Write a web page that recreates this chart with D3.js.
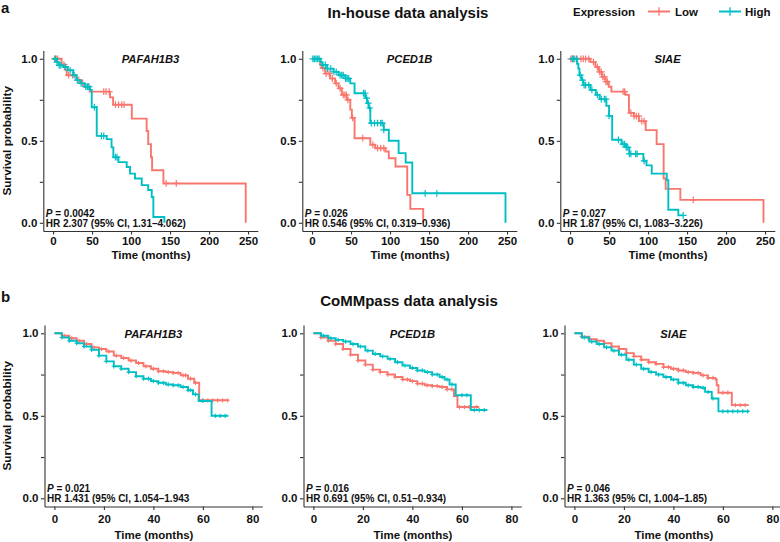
<!DOCTYPE html>
<html><head><meta charset="utf-8">
<script src="https://cdn.jsdelivr.net/npm/d3@7"></script>
<style>body{margin:0;background:#fff} text{font-family:"Liberation Sans",Arial,Helvetica,sans-serif}</style>
</head><body><script>
// ---------------- DATA ----------------
const genes = ["PAFAH1B3", "PCED1B", "SIAE"];
const groups = ["Low", "High"];
const inhouseP = ["0.0042", "0.026", "0.027"];
const inhouseHR = ["HR 2.307 (95% CI, 1.31\u20134.062)", "HR 0.546 (95% CI, 0.319\u20130.936)", "HR 1.87 (95% CI, 1.083\u20133.226)"];
const commpassP = ["0.021", "0.016", "0.046"];
const commpassHR = ["HR 1.431 (95% CI, 1.054\u20131.943", "HR 0.691 (95% CI, 0.51\u20130.934)", "HR 1.363 (95% CI, 1.004\u20131.85)"];
const inhouseXTicks = [0, 50, 100, 150, 200, 250];
const commpassXTicks = [0, 20, 40, 60, 80];
const yTicks = [0, 0.25, 0.5, 0.75, 1];
const yLabelled = [0, 0.5, 1];

// In-house: [time (months), survival after step]
const inPAFAH1B3Low = [[0,1],[11,0.965],[15,0.935],[17.5,0.90],[30,0.87],[37,0.85],[40,0.83],[47,0.80],[73,0.765],[77,0.72],[101,0.635],[120,0.56],[122,0.48],[125.5,0.40],[127,0.32],[141.5,0.24],[247,0]];
const inPAFAH1B3High = [[0,1],[4.7,0.98],[7,0.96],[13,0.95],[19,0.93],[26,0.90],[30,0.87],[34.6,0.85],[40.6,0.83],[47.4,0.81],[49.6,0.705],[56,0.53],[68.8,0.51],[75,0.46],[77.3,0.40],[83.8,0.37],[94.4,0.34],[98.7,0.30],[105,0.27],[113.7,0.23],[122,0.20],[126.5,0.157],[128.6,0.035],[142.7,0]];
const inPCED1BLow = [[0,1],[10.3,0.963],[12,0.943],[16.8,0.91],[23.2,0.88],[29.6,0.85],[34,0.82],[38.2,0.78],[44.6,0.75],[49,0.69],[51,0.64],[54.5,0.516],[74.7,0.476],[81,0.455],[94,0.435],[98.4,0.394],[107,0.343],[122,0.17],[126,0.085],[142.5,0]];
const inPCED1BHigh = [[0,1],[11,0.98],[13,0.963],[19.4,0.94],[27.5,0.92],[34,0.90],[42.5,0.88],[49,0.85],[54.5,0.79],[68.3,0.76],[70.5,0.73],[72.6,0.70],[74.7,0.608],[92,0.567],[98.4,0.50],[111,0.425],[120,0.368],[128.5,0.18],[248,0]];
const inSIAELow = [[0,1],[26,0.98],[32.5,0.95],[37,0.92],[41,0.89],[45.3,0.86],[49.6,0.83],[53,0.80],[71,0.78],[75.5,0.67],[82,0.65],[88.3,0.62],[97,0.565],[111,0.48],[120,0.27],[122.6,0.207],[141.4,0.14],[248,0]];
const inSIAEHigh = [[0,1],[9,0.97],[10.7,0.94],[12,0.90],[14.5,0.87],[17,0.84],[26,0.81],[33,0.78],[38,0.754],[46.6,0.713],[50,0.652],[54,0.506],[66,0.48],[72,0.46],[76,0.42],[94,0.378],[98,0.35],[104.7,0.30],[124,0.26],[126,0.08],[138.8,0.045]];
const inhouseEnd = [[247, 142.7], [142.5, 248], [248, 145]];

const inPAFAH1B3LowCens = [2,4,6,14,20,25,33,38,45,65,68,72,80,84,88,91,145,158];
const inPAFAH1B3HighCens = [3,5,8,10,16,22,27,31,36,42,44,46,53,62,65,80,82];
const inPCED1BLowCens = [14,18,22,26,31,36,40,42,44,46,52,65,78,84,88,92];
const inPCED1BHighCens = [1,3,5,7,9,14,17,20,24,28,31,36,38,40,43,45,47,66,68,70,72,74,76,80,84,88,90,92,145,160];
const inSIAELowCens = [1,3,5,9,14,17,20,24,30,35,38,40,42,44,46,48,68,70,78,82,85,88,92,95,158];
const inSIAEHighCens = [3,5,8,13,16,18,20,24,28,35,40,44,46,50,62,68,70,72,74,76,78,84,86,95,145];

// CoMMpass
const cmPAFAH1B3Low = [[0,1],[3,0.985],[6,0.97],[9,0.955],[12,0.935],[15,0.915],[18,0.905],[21,0.89],[24,0.865],[27,0.85],[30,0.835],[33,0.82],[36,0.80],[39,0.785],[42,0.77],[45,0.765],[48,0.76],[51,0.745],[54,0.725],[56.5,0.70],[58.5,0.594]];
const cmPAFAH1B3High = [[0,1],[3,0.975],[6,0.955],[9,0.94],[12,0.92],[15,0.90],[18,0.865],[21,0.83],[24,0.80],[27,0.785],[30,0.765],[33,0.74],[36,0.725],[39,0.71],[42,0.70],[45,0.69],[48,0.685],[51,0.675],[54,0.655],[56,0.63],[58.3,0.59],[63.5,0.50]];
const cmPCED1BLow = [[0,1],[3,0.975],[6,0.955],[9,0.935],[12,0.905],[15,0.87],[18,0.835],[21,0.81],[24,0.78],[27,0.765],[30,0.75],[33,0.735],[36,0.72],[39,0.71],[42,0.695],[45,0.685],[48,0.68],[51,0.675],[54,0.66],[56.8,0.62],[58.2,0.553]];
const cmPCED1BHigh = [[0,1],[3,0.985],[6,0.97],[9,0.96],[12,0.95],[15,0.935],[18,0.92],[21,0.895],[24,0.875],[27,0.86],[30,0.845],[33,0.825],[36,0.805],[39,0.79],[42,0.775],[45,0.765],[48,0.75],[51,0.735],[53,0.72],[55,0.69],[57.5,0.625],[63.6,0.535]];
const cmSIAELow = [[0,1],[3,0.98],[6,0.965],[9,0.955],[12,0.94],[15,0.92],[18,0.905],[21,0.88],[24,0.86],[27,0.84],[30,0.825],[33,0.815],[36,0.795],[39,0.785],[42,0.775],[45,0.765],[48,0.76],[51,0.745],[54,0.73],[57,0.72],[57.5,0.685],[58.2,0.64],[63.6,0.565]];
const cmSIAEHigh = [[0,1],[3,0.975],[6,0.95],[9,0.935],[12,0.915],[15,0.895],[18,0.87],[21,0.84],[24,0.81],[27,0.785],[30,0.765],[33,0.75],[36,0.735],[39,0.72],[42,0.70],[45,0.685],[48,0.675],[51,0.67],[52.8,0.645],[55.5,0.605],[58.2,0.527]];
const commpassEnd = [[70.3, 70.3], [67, 70.3], [70.5, 70.5]];

const cmPAFAH1B3LowCens = [4,7,10,13,16,19,22,25,28,31,34,37,40,42,44,46,48,50,52,53,55,57,60,62,64,66,68,70];
const cmPAFAH1B3HighCens = [3,6,9,12,15,18,21,24,27,30,33,36,38,40,42,44,46,48,50,52,54,55,57,60,65,67,69];
const cmPCED1BLowCens = [3,6,9,12,15,18,21,24,27,30,33,36,38,40,42,44,46,48,50,52,54,56,59,61,63,66];
const cmPCED1BHighCens = [4,7,10,13,16,19,22,25,28,31,34,37,40,42,44,46,48,50,52,54,56,60,62,65,67,69];
const cmSIAELowCens = [3,6,9,12,15,18,21,24,27,30,33,36,38,40,42,44,46,48,50,52,54,56,60,62,65,67,69];
const cmSIAEHighCens = [4,7,10,13,16,19,22,25,28,31,34,37,40,42,44,46,48,50,52,54,56,60,62,64,66,68,70];

const inhouseCurves = [[inPAFAH1B3Low, inPAFAH1B3High], [inPCED1BLow, inPCED1BHigh], [inSIAELow, inSIAEHigh]];
const inhouseCens = [[inPAFAH1B3LowCens, inPAFAH1B3HighCens], [inPCED1BLowCens, inPCED1BHighCens], [inSIAELowCens, inSIAEHighCens]];
const commpassCurves = [[cmPAFAH1B3Low, cmPAFAH1B3High], [cmPCED1BLow, cmPCED1BHigh], [cmSIAELow, cmSIAEHigh]];
const commpassCens = [[cmPAFAH1B3LowCens, cmPAFAH1B3HighCens], [cmPCED1BLowCens, cmPCED1BHighCens], [cmSIAELowCens, cmSIAEHighCens]];

// ---------------- DRAW ----------------
const colors = { Low: "#F8766D", High: "#00BFC4" };
const svg = d3.select("body").append("svg").attr("width", 780).attr("height", 542);
const AXIS = "#333333";

function survAt(pts, t) {
  let s = pts[0][1];
  for (const p of pts) { if (p[0] <= t) s = p[1]; else break; }
  return s;
}

const rows = [
  { curves: inhouseCurves, cens: inhouseCens, ends: inhouseEnd, P: inhouseP, HR: inhouseHR,
    axisX: [43.3, 302.3, 560.3], xDom: [-12.5, 262.5], xPx: 214.5, xTicks: inhouseXTicks,
    y0: 222.8, y1: 58.8, tickBase: 245, xlabBase: 259, censH: 3.4, censW: 1.2, lw: 1.9 },
  { curves: commpassCurves, cens: commpassCens, ends: commpassEnd, P: commpassP, HR: commpassHR,
    axisX: [44.5, 303.5, 564.5], xDom: [-4, 84], xPx: 217.8, xTicks: commpassXTicks,
    y0: 498.3, y1: 333.3, tickBase: 523, xlabBase: 539, censH: 2.1, censW: 1.1, lw: 1.9 }
];

rows.forEach((row, ri) => {
  genes.forEach((gene, gi) => {
    const ax = row.axisX[gi];
    const x = d3.scaleLinear().domain(row.xDom).range([ax, ax + row.xPx]);
    const k = (row.y0 - row.y1);
    const y = d3.scaleLinear().domain([-0.05, 1.05]).range([row.y0 + 0.05 * k, row.y1 - 0.05 * k]);
    const g = svg.append("g");
    const yBottom = row.y0 + 0.05 * k;

    // axes
    const xAxis = d3.axisBottom(x).tickValues(row.xTicks).tickSize(3.5).tickSizeOuter(0).tickPadding(3);
    const gx = g.append("g").attr("transform", `translate(0,${yBottom})`).call(xAxis);
    const yAxis = d3.axisLeft(y).tickValues(yTicks).tickSize(3.5).tickSizeOuter(0).tickPadding(2.5)
      .tickFormat(v => yLabelled.includes(v) ? d3.format(".1f")(v) : "");
    const gy = g.append("g").attr("transform", `translate(${ax},0)`).call(yAxis);
    [gx, gy].forEach(a => {
      a.select(".domain").attr("stroke", AXIS).attr("stroke-width", 1.1);
      a.selectAll(".tick line").attr("stroke", AXIS).attr("stroke-width", 1.1);
      a.selectAll(".tick text").attr("fill", "#111").attr("font-size", 11.5).attr("font-weight", "bold")
        .attr("font-family", '"Liberation Sans",Arial,sans-serif');
    });
    gx.selectAll(".tick text").attr("dy", null).attr("y", null)
      .attr("transform", `translate(0,${row.tickBase - yBottom})`);

    // curves
    const line = d3.line().x(d => x(d[0])).y(d => y(d[1])).curve(d3.curveStepAfter);
    groups.forEach((grp, k2) => {
      const pts = row.curves[gi][k2];
      const end = row.ends[gi][k2];
      const last = pts[pts.length - 1];
      const data = last[0] < end ? pts.concat([[end, last[1]]]) : pts;
      g.append("path").attr("d", line(data)).attr("fill", "none")
        .attr("stroke", colors[grp]).attr("stroke-width", row.lw).attr("stroke-linejoin", "miter");
      const h = row.censH;
      const cp = row.cens[gi][k2].filter(t => t <= end).map(t => {
        const cx = x(t), cy = y(survAt(pts, t));
        return `M${cx - h},${cy}H${cx + h}M${cx},${cy - h}V${cy + h}`;
      }).join("");
      g.append("path").attr("d", cp).attr("fill", "none").attr("stroke", colors[grp]).attr("stroke-width", row.censW);
    });

    // gene title
    const cx = ax + row.xPx / 2;
    g.append("text").attr("x", cx).attr("y", y(1) + 4.5).attr("text-anchor", "middle")
      .attr("font-size", 11.2).attr("font-weight", "bold").attr("font-style", "italic").attr("fill", "#111").text(gene);

    // stats
    const pt = g.append("text").attr("x", ax + 2.5).attr("y", y(0) - 6).attr("font-size", 10)
      .attr("font-weight", "bold").attr("fill", "#111");
    pt.append("tspan").attr("font-style", "italic").text("P");
    pt.append("tspan").text(" = " + row.P[gi]);
    g.append("text").attr("x", ax + 2.5).attr("y", y(0) + 4).attr("font-size", 10)
      .attr("font-weight", "bold").attr("fill", "#111").text(row.HR[gi]);

    // x label
    g.append("text").attr("x", ax + row.xPx / 2 + 0.5).attr("y", row.xlabBase).attr("text-anchor", "middle")
      .attr("font-size", 11.5).attr("font-weight", "bold").attr("fill", "#111").text("Time (months)");

    // y label (first column only)
    if (gi === 0) {
      const ym = (y(1.05) + y(-0.05)) / 2;
      g.append("text").attr("transform", `translate(10.5,${ym}) rotate(-90)`).attr("text-anchor", "middle")
        .attr("font-size", 11.8).attr("font-weight", "bold").attr("fill", "#111").text("Survival probability");
    }
  });
});

// panel letters and titles
svg.append("text").attr("x", 1).attr("y", 13).attr("font-size", 15).attr("font-weight", "bold").attr("fill", "#111").text("a");
svg.append("text").attr("x", 1).attr("y", 301.5).attr("font-size", 15).attr("font-weight", "bold").attr("fill", "#111").text("b");
svg.append("text").attr("x", 408).attr("y", 17.5).attr("text-anchor", "middle").attr("font-size", 15)
  .attr("font-weight", "bold").attr("fill", "#111").text("In-house data analysis");
svg.append("text").attr("x", 409).attr("y", 305.5).attr("text-anchor", "middle").attr("font-size", 15)
  .attr("font-weight", "bold").attr("fill", "#111").text("CoMMpass data analysis");

// legend
const lg = svg.append("g");
lg.append("text").attr("x", 573).attr("y", 15.5).attr("font-size", 11.5).attr("font-weight", "bold").attr("fill", "#111").text("Expression");
const legendItems = [{ grp: "Low", x1: 648, tx: 675 }, { grp: "High", x1: 719, tx: 745 }];
legendItems.forEach(it => {
  lg.append("line").attr("x1", it.x1).attr("x2", it.x1 + 22).attr("y1", 11.5).attr("y2", 11.5)
    .attr("stroke", colors[it.grp]).attr("stroke-width", 2);
  lg.append("line").attr("x1", it.x1 + 11).attr("x2", it.x1 + 11).attr("y1", 7.3).attr("y2", 15.7)
    .attr("stroke", colors[it.grp]).attr("stroke-width", 1.3);
  lg.append("text").attr("x", it.tx).attr("y", 15.5).attr("font-size", 11.5).attr("font-weight", "bold").attr("fill", "#111").text(it.grp);
});
</script></body></html>
